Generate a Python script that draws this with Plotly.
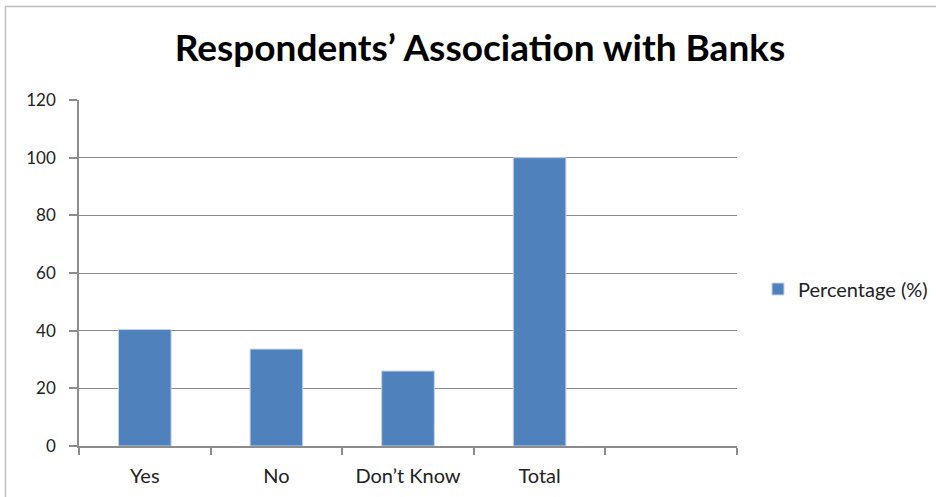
import plotly.graph_objects as go

# Survey responses: share of respondents associated with a bank
categories = ["Yes", "No", "Don’t Know", "Total"]
percentages = [40.4, 33.6, 26.0, 100.0]
series_name = "Percentage (%)"
y_ticks = [0, 20, 40, 60, 80, 100, 120]

# an extra empty slot on the category axis leaves a blank band at the right
axis_categories = categories + [" "]

W, H = 936, 497
L, R, T, B = 79, 199, 100, 51
plot_w, plot_h = W - L - R, H - T - B

BAR = "#4F81BD"
GRID = "#8C8C8C"
FONT = "Lato, Carlito, Calibri, sans-serif"
TEXT = "#222222"

fig = go.Figure(
    go.Bar(
        x=categories,
        y=percentages,
        name=series_name,
        width=0.4,
        marker=dict(color=BAR, line=dict(color="#C6D4E8", width=1)),
        showlegend=True,
    )
)

def px_to_paper_x(px):
    return (px - L) / plot_w

def px_to_paper_y(py):
    return (H - B - py) / plot_h

fig.update_layout(
    width=W,
    height=H,
    margin=dict(l=L, r=R, t=T, b=B, pad=0, autoexpand=False),
    paper_bgcolor="white",
    plot_bgcolor="white",
    font=dict(family=FONT, color=TEXT, size=17),
    title=dict(
        text="<b>Respondents’ Association with Banks</b>",
        x=480 / W,
        xanchor="center",
        y=1 - 48 / H,
        yanchor="middle",
        font=dict(family=FONT, size=37, color="#000000"),
    ),
    xaxis=dict(
        type="category",
        categoryorder="array",
        categoryarray=axis_categories,
        range=[-0.5, len(axis_categories) - 0.5],
        tickson="boundaries",
        ticks="outside",
        ticklen=7,
        tickcolor=GRID,
        tickwidth=1.5,
        ticklabelstandoff=11,
        showline=True,
        linecolor=GRID,
        linewidth=1.5,
        showgrid=False,
        tickfont=dict(family=FONT, size=20, color=TEXT),
        fixedrange=True,
        automargin=False,
    ),
    yaxis=dict(
        range=[0, 120],
        tickvals=y_ticks,
        ticks="outside",
        ticklen=8,
        tickcolor=GRID,
        tickwidth=1.5,
        ticklabelstandoff=10,
        showline=True,
        linecolor=GRID,
        linewidth=1.5,
        showgrid=True,
        gridcolor=GRID,
        gridwidth=1.2,
        zeroline=False,
        tickfont=dict(family=FONT, size=17, color=TEXT),
        fixedrange=True,
        automargin=False,
    ),
    legend=dict(
        x=px_to_paper_x(758),
        xanchor="left",
        y=px_to_paper_y(289),
        yanchor="middle",
        bgcolor="rgba(0,0,0,0)",
        font=dict(family=FONT, size=20, color=TEXT),
        itemwidth=30,
    ),
    shapes=[
        dict(
            type="rect",
            xref="paper",
            yref="paper",
            x0=px_to_paper_x(5.5),
            x1=px_to_paper_x(W + 20),
            y0=px_to_paper_y(H + 20),
            y1=px_to_paper_y(6.5),
            line=dict(color="#BFBFBF", width=1.5),
            fillcolor="rgba(0,0,0,0)",
            layer="below",
        )
    ],
)

fig.write_html("out.html")
